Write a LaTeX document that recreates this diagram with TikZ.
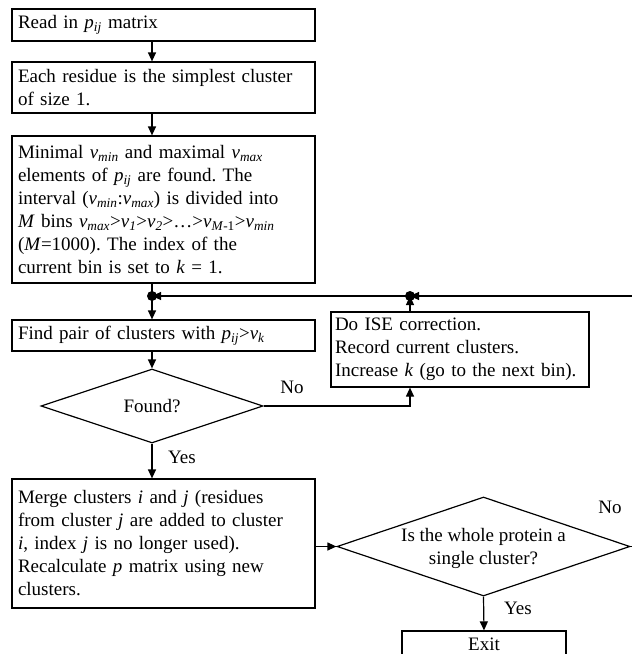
\documentclass[tikz,border=0pt]{standalone}
\usepackage{fontspec}
\setmainfont{Liberation Serif}
\usetikzlibrary{arrows.meta,shapes.geometric}
\newcommand{\itsub}[2]{\textit{#1}\textsubscript{\textit{#2}}}
\frenchspacing

\begin{document}
\begin{tikzpicture}[x=1pt,y=-1pt,font=\fontsize{19}{23}\selectfont,line width=1.2pt,
  box/.style={draw,inner xsep=6pt,inner ysep=3pt,text width=291pt,align=left},
  dec/.style={draw,shape=diamond,inner sep=0pt,aspect=3},
  arr/.style={-{Triangle[length=9pt,width=8pt]}}]
  \useasboundingbox (0,0) rectangle (632,654);
  \clip (0,0) rectangle (632,654);
  \node[box,minimum height=32pt] (read) at (163.5,25) {Read in \itsub{p}{ij} matrix};
  \node[box,minimum height=51pt] (each) at (163.5,87.5) {Each residue is the simplest cluster\\ of size 1.};
  \node[box,minimum height=147pt] (minimal) at (163.5,209.5) {Minimal \itsub{v}{min} and maximal \itsub{v}{max}\\
    elements of \itsub{p}{ij} are found. The\\
    interval (\itsub{v}{min}:\itsub{v}{max}) is divided into\\
    \textit{M} bins \itsub{v}{max}>\itsub{v}{1}>\itsub{v}{2}>\ldots>\textit{v}\textsubscript{\textit{M}-1}>\itsub{v}{min}\\
    (\textit{M}=1000). The index of the\\
    current bin is set to \textit{k} = 1.};
  \coordinate (j1) at (152,296); \coordinate (j2) at (410,296);
  \coordinate (loop) at (645,546.5);
  \node[box,minimum height=31pt] (find) at (163.5,335.5) {Find pair of clusters with \itsub{p}{ij}>\itsub{v}{k}};
  \node[box,inner xsep=4pt,text width=250pt,minimum height=75pt] (ise) at (460,349.5) {Do ISE correction.\\
    Record current clusters.\\ Increase \textit{k} (go to the next bin).};
  \node[dec,minimum width=222pt,minimum height=74pt,label=center:Found?] (found) at (152,406) {};
  \node[box,minimum height=129pt] (merge) at (163.5,543.5) {Merge clusters \textit{i} and \textit{j} (residues\\
    from cluster \textit{j} are added to cluster\\ \textit{i}, index \textit{j} is no longer used).\\
    Recalculate \textit{p} matrix using new\\ clusters.};
  \node[dec,minimum width=293pt,minimum height=99pt,
    label={[align=center,yshift=-2pt]center:Is the whole protein a\\ single cluster?}] (whole) at (483.5,546.5) {};
  \node[draw,minimum width=164pt,minimum height=26pt,inner sep=2pt] (exit) at (484,644) {Exit};
  \node (no1) at (292,387) {No};
  \node (yes1) at (182,457) {Yes};
  \node (no2) at (610,507) {No};
  \node (yes2) at (518,608) {Yes};
  \draw[arr] (read.south -| j1) -- (each.north -| j1);
  \draw[arr] (each.south -| j1) -- (minimal.north -| j1);
  \draw (minimal.south -| j1) -- (j1);
  \draw[arr] (j1) -- (find.north -| j1);
  \draw[arr] (find.south -| found) -- (found.north);
  \draw[arr] (found.south) -- (merge.north -| found);
  \draw[arr] (found.east) -| (j2 |- ise.south);
  \draw[arr] (ise.north -| j2) -- (j2);
  \draw[arr] (whole.east) -- (loop) |- (j2);
  \draw[arr] (j2) -- (j1);
  \draw[arr] (merge.east |- whole) -- (whole.west);
  \draw[arr] (whole.south) -- (exit.north);
  \fill (j1) circle (5); \fill (j2) circle (5);
\end{tikzpicture}
\end{document}
